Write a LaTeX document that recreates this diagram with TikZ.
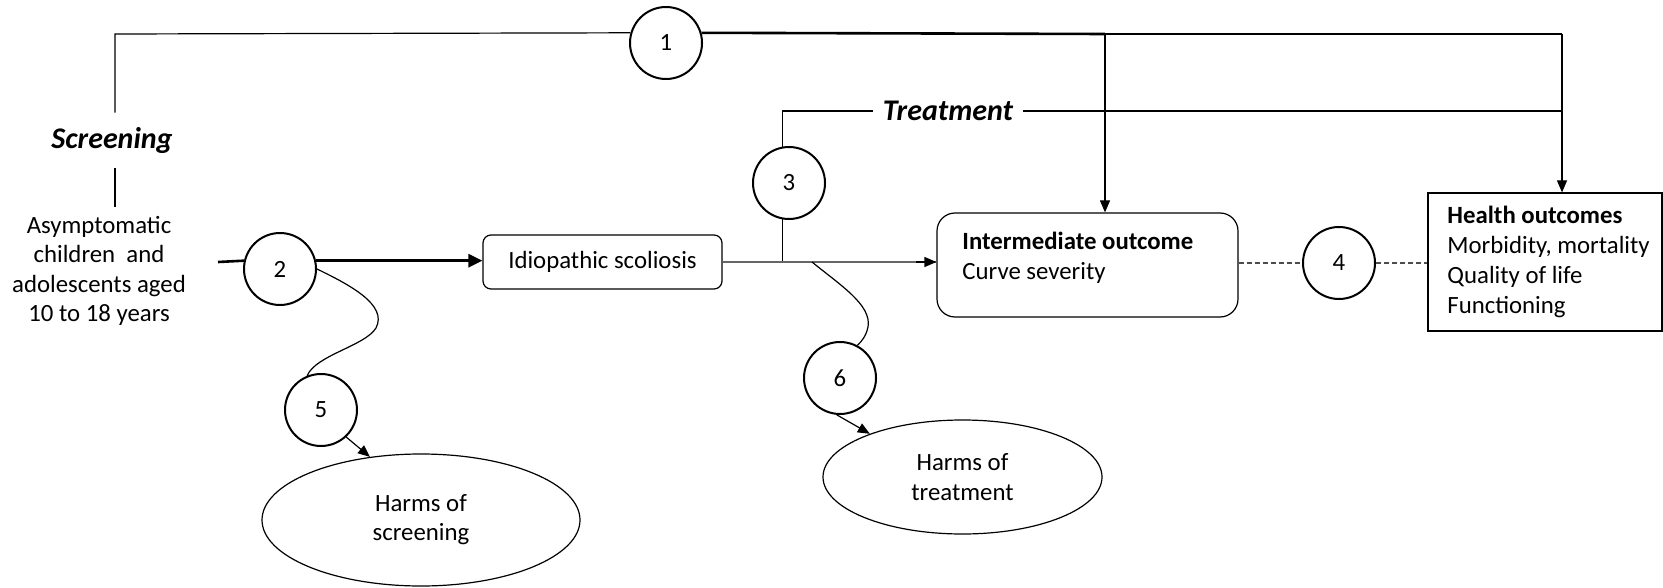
\documentclass[tikz,border=0pt]{standalone}
\usepackage{fontspec}
\setmainfont{Carlito}
\usetikzlibrary{arrows.meta,shapes.geometric}

\begin{document}
\begin{tikzpicture}[x=0.5pt,y=0.5pt,yscale=-1,
	font=\fontsize{12.4pt}{14.6pt}\selectfont,
	kq/.style={circle,draw,line width=1pt,fill=white,minimum size=36pt,inner sep=0pt},
	boxr/.style={draw,line width=0.6pt,rounded corners=4pt,inner sep=0pt},
	harm/.style={ellipse,draw,line width=0.6pt,inner sep=0pt,align=center},
	lbl/.style={font=\fontsize{15pt}{17pt}\selectfont\bfseries\itshape},
	ln/.style={line width=0.6pt},
	thk/.style={line width=1.3pt},
	tip/.style={-{Triangle[length=6pt,width=5pt]}},
	bigtip/.style={-{Triangle[length=7pt,width=6.5pt]}},
	dsh/.style={line width=0.6pt,black!70,dash pattern=on 2.5pt off 1.5pt}]

	\useasboundingbox (0,0) rectangle (1663,588);

	% population and key questions
	\node[align=center] (pop) at (99,271) {Asymptomatic\\children~ and\\adolescents aged\\10 to 18 years};
	\node[lbl,inner sep=0pt,minimum height=27.5pt] (scr) at (112,140.5) {Screening};
	\node[lbl,inner ysep=0pt,inner xsep=5pt] (trt) at (948,111) {Treatment};
	\node[kq] (c1) at (666,43) {1};
	\node[kq] (c2) at (280,269) {2};
	\node[kq] (c3) at (789,183) {3};
	\node[kq] (c4) at (1339,263) {4};
	\node[kq] (c5) at (321,410) {5};
	\node[kq] (c6) at (840,378) {6};

	% outcomes
	\node[boxr,minimum width=119.5pt,minimum height=27pt] (idio) at (602.5,262) {Idiopathic scoliosis};
	\node[boxr,rounded corners=9pt,minimum width=150.5pt,minimum height=52pt] (inter) at (1087.5,265) {};
	\node[align=left,inner sep=0pt,anchor=west,font=\fontsize{12.4pt}{15pt}\selectfont] (intertxt) at (962,258) {\textbf{Intermediate outcome}\\Curve severity};
	\node[draw,line width=0.6pt,inner sep=0pt,minimum width=117pt,minimum height=69pt] (hlth) at (1545,262) {};
	\node[align=left,inner sep=0pt,anchor=west,font=\fontsize{12.4pt}{15pt}\selectfont] (hlthtxt) at (1447,262) {\textbf{Health outcomes}\\Morbidity, mortality\\Quality of life\\Functioning};
	\node[harm,minimum width=159pt,minimum height=66pt] (hscr) at (421,520) {Harms of\\screening};
	\node[harm,minimum width=139.5pt,minimum height=57pt] (htrt) at (962.5,477) {Harms of\\treatment};

	\coordinate (top1) at (115,34);
	\coordinate (top2) at (1105,34);
	\coordinate (top3) at (1562,34);
	\coordinate (popn) at (115,207);
	\coordinate (start) at (218,262);
	\coordinate (fork) at (812,262);

	% overarching arrow
	\draw[ln] (top1 |- scr.north) -- (top1) -- (c1.164);
	\draw[thk] (c1.16) -- (top2);
	\draw[ln] (top2) -- (top3);
	\draw[ln,tip] (top2) -- (top2 |- inter.north);
	\draw[ln,tip] (top3) -- (top3 |- hlth.north);
	\draw[ln] (top1 |- scr.south) -- (popn);

	% treatment
	\draw[ln] (c3.100) |- (trt.west);
	\draw[ln] (trt.east) -- (trt.east -| top3);
	\draw[ln] (c3.260) -- (c3.260 |- idio.east);

	% main chain
	\draw[thk] (start) -- (c2.167);
	\draw[thk,bigtip] (c2.13) -- (c2.13 -| idio.west);
	\draw[line width=1pt,black!60] (idio.east) -- (idio.east -| inter.west);
	\draw[ln,tip] ([xshift=-10pt]idio.east -| inter.west) -- (idio.east -| inter.west);
	\draw[dsh] (inter.east |- c4.west) -- (c4.west);
	\draw[dsh] (c4.east) -- (c4.east -| hlth.west);

	% harms
	\draw[ln] (c2.east) .. controls (350,285) and (388,305) .. (376,328) .. controls (365,346) and (316,355) .. (c5.112);
	\draw[ln,tip] (c5.-47) -- (hscr.129);
	\draw[ln] (fork) .. controls (840,285) and (872,305) .. (868,327) .. controls (866,336) and (862,341) .. (c6.62);
	\draw[ln,tip] (c6.265) -- (htrt.155);
\end{tikzpicture}
\end{document}
